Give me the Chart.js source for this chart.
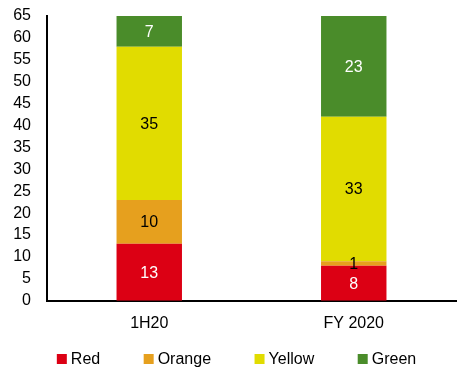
<!DOCTYPE html>
<html>
<head>
<meta charset="utf-8">
<script src="https://cdn.jsdelivr.net/npm/chart.js@4"></script>
<style>
  html, body { margin: 0; padding: 0; background: #fff; }
  #grafica { display: block; }
</style>
</head>
<body>
<canvas id="grafica" width="465" height="371"></canvas>
<script>
// datos
const categorias = ["1H20", "FY 2020"];
const rojo = [13, 8];
const naranja = [10, 1];
const amarillo = [35, 33];
const verde = [7, 23];

const fuente = "'Liberation Sans', Arial, sans-serif";

// etiquetas dentro de cada segmento
const etiquetas = {
  id: "etiquetas",
  afterDatasetsDraw(chart) {
    const ctx = chart.ctx;
    ctx.save();
    ctx.font = "16px " + fuente;
    ctx.textAlign = "center";
    ctx.textBaseline = "middle";
    chart.data.datasets.forEach((ds, i) => {
      const meta = chart.getDatasetMeta(i);
      meta.data.forEach((bar, j) => {
        const v = ds.data[j];
        if (!v) return;
        ctx.fillStyle = ds.colorTexto;
        ctx.fillText(String(v), bar.x, (bar.y + bar.base) / 2 + 1);
      });
    });
    ctx.restore();
  }
};

// leyenda abajo, con separacion ancha entre elementos
const leyenda = {
  id: "leyenda",
  afterDraw(chart) {
    const ctx = chart.ctx;
    ctx.save();
    ctx.font = "16px " + fuente;
    ctx.textBaseline = "middle";
    const caja = 10, sep = 4, hueco = 43.5, y = 359;
    const anchos = chart.data.datasets.map(ds => caja + sep + ctx.measureText(ds.label).width);
    const total = anchos.reduce((a, b) => a + b, 0) + hueco * (anchos.length - 1);
    let x = 236.5 - total / 2;
    chart.data.datasets.forEach((ds, i) => {
      ctx.fillStyle = ds.backgroundColor;
      ctx.fillRect(x, y - caja / 2, caja, caja);
      ctx.fillStyle = "#000";
      ctx.fillText(ds.label, x + caja + sep, y + 1);
      x += anchos[i] + hueco;
    });
    ctx.restore();
  }
};

new Chart(document.getElementById("grafica").getContext("2d"), {
  type: "bar",
  data: {
    labels: categorias,
    datasets: [
      { label: "Red", data: rojo, backgroundColor: "#DC0014", colorTexto: "#fff" },
      { label: "Orange", data: naranja, backgroundColor: "#E6A01E", colorTexto: "#000" },
      { label: "Yellow", data: amarillo, backgroundColor: "#E1DC00", colorTexto: "#000" },
      { label: "Green", data: verde, backgroundColor: "#4A8C2A", colorTexto: "#fff" }
    ]
  },
  options: {
    responsive: false,
    animation: false,
    datasets: { bar: { categoryPercentage: 1, barPercentage: 0.32 } },
    layout: { autoPadding: false, padding: { top: 16, right: 9, left: 2, bottom: 25 } },
    plugins: {
      tooltip: { enabled: false },
      legend: { display: false }
    },
    scales: {
      x: {
        stacked: true,
        grid: { display: false, drawTicks: false },
        border: { color: "#000", width: 2 },
        ticks: { color: "#000", padding: 13, font: { family: fuente, size: 16 } }
      },
      y: {
        stacked: true,
        min: 0,
        max: 65,
        grid: { display: false, drawTicks: false },
        border: { color: "#000", width: 2 },
        ticks: { stepSize: 5, autoSkip: false, color: "#000", padding: 16, font: { family: fuente, size: 16 } },
        afterFit(scale) {
          scale.width = 45;
          scale.paddingTop = 0;
          scale.paddingBottom = 0;
        }
      }
    }
  },
  plugins: [etiquetas, leyenda]
});
</script>
</body>
</html>
